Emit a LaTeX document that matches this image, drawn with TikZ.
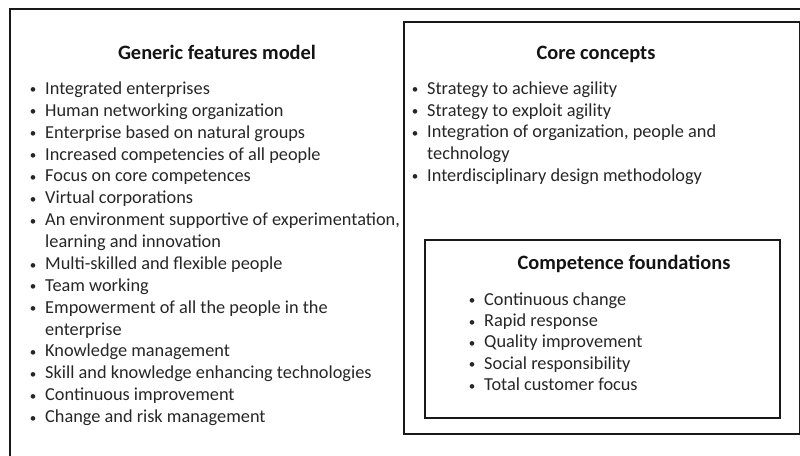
\documentclass[tikz,border=0pt]{standalone}
\usepackage{fontspec}
\setmainfont{Carlito}
\begin{document}
\begin{tikzpicture}[x=1pt,y=-1pt,
  txt/.style={anchor=mid west, inner sep=0pt, font=\fontsize{18.3}{21}\selectfont, text=black!85},
  bul/.style={anchor=center, inner sep=0pt, font=\fontsize{13}{15}\selectfont, text=black!85},
  ttl/.style={anchor=mid, inner sep=0pt, font=\fontsize{20.4}{24}\selectfont\bfseries, text=black!92},
  frame/.style={draw=black!90, line width=2pt},
  box/.style={draw=black!90, line width=1.6pt}]
\useasboundingbox (0,0) rectangle (800,455);
\clip (0,0) rectangle (800,455);
% outer frame (continues beyond the picture at right and bottom)
\draw[frame] (802,9) -- (10,9) -- (10,458);
% boxes
\node[box, minimum width=396pt, minimum height=412pt, anchor=north west, inner sep=0pt] (core) at (403,21) {};
\node[box, minimum width=355pt, minimum height=178pt, anchor=north west, inner sep=0pt] (comp) at (424,239) {};
% titles
\node[ttl] (tg) at (217,57) {Generic features model};
\node[ttl] (tc) at (596,57) {Core concepts};
\node[ttl] (tf) at (624,267) {Competence foundations};
% left column
\foreach \t [count=\i from 0] in {
  {Integrated enterprises},
  {Human networking organization},
  {Enterprise based on natural groups},
  {Increased competencies of all people},
  {Focus on core competences},
  {Virtual corporations},
  {An environment supportive of experimentation,},
  {},
  {Multi-skilled and flexible people},
  {Team working},
  {Empowerment of all the people in the},
  {},
  {Knowledge management},
  {Skill and knowledge enhancing technologies},
  {Continuous improvement},
  {Change and risk management}} {
  \ifx\t\empty\else
    \node[bul] (gb\i) at (33,91+21.88*\i) {•};
    \node[txt] (g\i) at (45,92+21.88*\i) {\t};
  \fi
}
\node[txt] (g7) at (45,92+21.88*7) {learning and innovation};
\node[txt] (g11) at (45,92+21.88*11) {enterprise};
% core concepts
\foreach \t [count=\i from 0] in {
  {Strategy to achieve agility},
  {Strategy to exploit agility},
  {Integration of organization, people and},
  {},
  {Interdisciplinary design methodology}} {
  \ifx\t\empty\else
    \node[bul] (cb\i) at (415,91+21.75*\i) {•};
    \node[txt] (c\i) at (427,92+21.75*\i) {\t};
  \fi
}
\node[txt] (c3) at (427,92+21.75*3) {technology};
% competence foundations
\foreach \t [count=\i from 0] in {
  {Continuous change},
  {Rapid response},
  {Quality improvement},
  {Social responsibility},
  {Total customer focus}} {
  \node[bul] (fb\i) at (472,302+21.3*\i) {•};
  \node[txt] (f\i) at (484,303+21.3*\i) {\t};
}
\end{tikzpicture}
\end{document}
